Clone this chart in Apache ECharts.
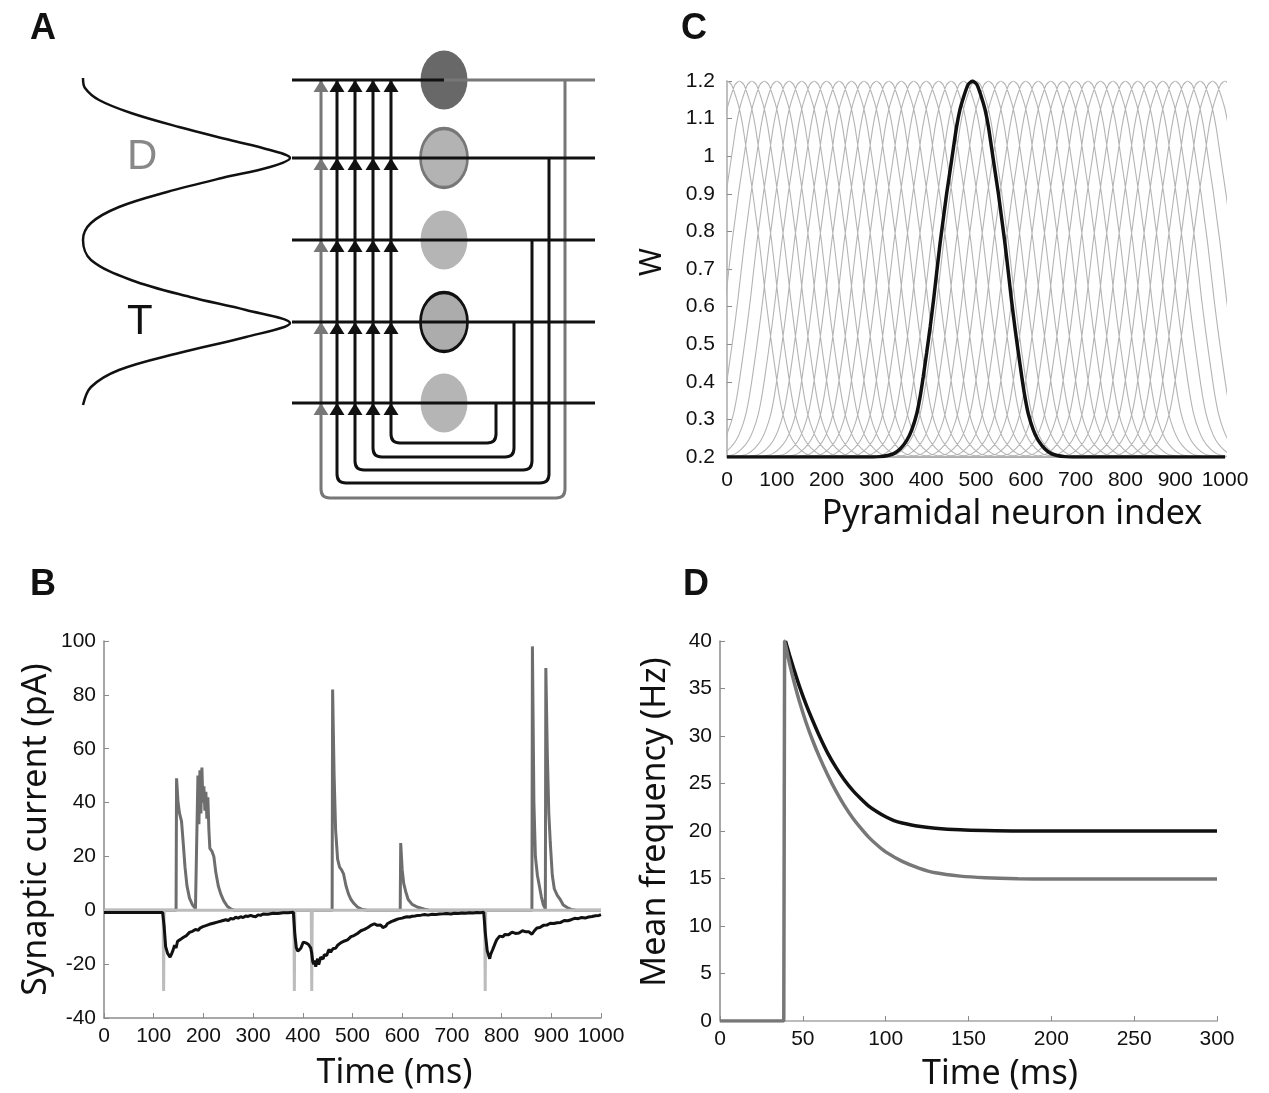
<!DOCTYPE html>
<html>
<head>
<meta charset="utf-8">
<script src="https://cdn.jsdelivr.net/npm/echarts@6/dist/echarts.min.js"></script>
<style>
html, body { margin: 0; background: #fff; }
#main { width: 1269px; height: 1093px; }
</style>
</head>
<body>
<div id="main"></div>
<script>
// ---- panel A: network schematic, in its own units on hidden axes ----
const rowLevels = [80, 158, 240, 322, 403];
const feedLines = [321, 337, 355, 373, 391];
const returnLines = [565, 549, 532, 514, 496];
const loopLevels = [498, 483, 470, 457, 443];
const rowEnds = [292, 595];
const neuronColumn = 444;
const inputProfile = [[83, 78], [85, 88], [99, 100], [131, 113], [179, 127], [230, 140], [270, 150], [290, 158],
  [270, 167], [222, 178], [167, 192], [119, 207], [91, 223], [83, 240], [91, 260], [131, 280], [190, 297],
  [246, 310], [290, 323], [246, 337], [179, 353], [119, 370], [91, 387], [83, 405]];

// ---- panel C: tuning curves ----
const tuningOffsets = [-200, -185, -170, -158, -145, -132, -122, -112, -105, -99, -92, -85, -78, -72, -65,
  -59, -52, -45, -38, -32, -25, -18, -9, 0, 9, 18, 25, 32, 38, 45, 52, 59, 65, 72, 78, 85, 92, 99, 105,
  112, 122, 132, 145, 158, 170, 185, 200];
const tuningValues = [0.2, 0.201, 0.204, 0.209, 0.222, 0.244, 0.272, 0.315, 0.362, 0.413, 0.478, 0.546,
  0.62, 0.69, 0.77, 0.83, 0.9, 0.962, 1.025, 1.078, 1.125, 1.157, 1.19, 1.2, 1.19, 1.157, 1.125, 1.078,
  1.025, 0.962, 0.9, 0.83, 0.77, 0.69, 0.62, 0.546, 0.478, 0.413, 0.362, 0.315, 0.272, 0.244, 0.222,
  0.209, 0.204, 0.201, 0.2];
const tuningCenters = [0, 25, 50, 75, 100, 125, 150, 175, 200, 225, 250, 275, 300, 325, 350, 375, 400,
  425, 450, 475, 500, 525, 550, 575, 600, 625, 650, 675, 700, 725, 750, 775, 800, 825, 850, 875, 900,
  925, 950, 975, 1000];
const cuedCenter = 493;

// ---- panel B: synaptic currents (ms, pA) ----
const excitatoryTrace = [[0, 0], [145, 0], [146, 49], [149, 40], [152, 36], [156, 33], [159, 26], [163, 16],
  [167, 9], [172, 4.5], [178, 2], [184, 0.6], [188, 0], [189, 50], [191, 32], [193, 52], [195, 36], [197, 53],
  [199, 40], [201, 46], [203, 37], [205, 44], [207, 34], [209, 42], [211, 30], [213, 23], [217, 22], [221, 20],
  [225, 14], [230, 9], [235, 6], [241, 3.5], [248, 1.5], [256, 0.4], [262, 0], [459, 0], [460, 82], [463, 50],
  [466, 30], [470, 19], [474, 16], [478, 15], [482, 13.5], [487, 9], [492, 6], [497, 4], [503, 2.5], [510, 1.2],
  [520, 0.3], [530, 0], [596, 0], [597, 25], [600, 15], [603, 10], [607, 7], [612, 4], [620, 2.2], [630, 1.2],
  [645, 0.4], [655, 0], [861, 0], [862, 98], [865, 40], [868, 20], [872, 13], [876, 9], [880, 5], [884, 2],
  [888, 0.5], [889, 90], [892, 58], [895, 36], [898, 25], [902, 13], [906, 8], [912, 5.5], [918, 4], [924, 2],
  [932, 1], [940, 0.3], [950, 0], [1000, 0]];
const inhibitoryTrace = [[0, 0], [119, 0], [120, -30], [121, 0], [382, 0], [383, -30], [384, 0], [417, 0],
  [418, -30], [419, 0], [766, 0], [767, -30], [768, 0], [1000, 0]];
const netTrace = [[0, -0.8], [118, -0.8], [121, -6], [124, -13.5], [128, -16], [133, -17.4], [136, -16.2],
  [139, -14.8], [142, -13], [145, -14], [148, -11.5], [151, -12.2], [154, -10.8], [157, -11.3], [160, -10],
  [163, -10.4], [166, -9.4], [169, -9.8], [172, -8.2], [175, -8.6], [178, -7.8], [181, -8.1], [184, -7.1],
  [187, -7.6], [190, -7.4], [193, -6.6], [196, -6.9], [199, -6.1], [202, -6.4], [205, -5.7], [208, -6.0],
  [212, -5.2], [216, -5.6], [220, -4.8], [224, -5.1], [228, -4.4], [232, -4.7], [236, -4.0], [240, -4.3],
  [245, -3.5], [250, -3.8], [255, -3.0], [260, -3.3], [265, -2.6], [270, -2.9], [275, -2.4], [280, -2.7],
  [285, -2.1], [290, -2.3], [295, -1.9], [300, -2.2], [305, -2.4], [310, -1.7], [315, -1.9], [320, -1.4],
  [330, -1.5], [340, -1.1], [350, -1.2], [360, -0.9], [370, -0.9], [381, -0.7], [384, -9], [387, -14],
  [390, -15.2], [393, -14.8], [396, -14.1], [398, -13.6], [401, -11.8], [403, -11.2], [406, -12.1],
  [408, -11.5], [411, -12.6], [413, -12.3], [416, -14], [418, -16], [420, -19], [422, -20], [424, -18.6],
  [426, -21], [428, -19], [430, -18], [432, -20.2], [434, -19.5], [436, -17.4], [438, -17], [441, -18.1],
  [443, -16.5], [446, -17.2], [448, -16.8], [451, -15.3], [453, -14.5], [456, -15.6], [458, -15],
  [461, -14.2], [463, -13.5], [466, -14.1], [470, -13], [473, -13.6], [477, -12], [480, -12.5], [484, -11.4],
  [487, -11.9], [490, -11], [494, -10.4], [497, -9.8], [500, -10.2], [503, -9.4], [507, -9.1], [510, -8.6],
  [514, -8.2], [517, -7.6], [521, -7.9], [524, -7.1], [528, -6.8], [531, -6.4], [534, -6.0], [537, -5.6],
  [541, -5.4], [544, -5.0], [547, -5.4], [550, -5.6], [554, -5.2], [557, -5.5], [561, -6.4], [564, -6.8],
  [567, -5.9], [570, -5.0], [574, -4.6], [578, -4.2], [582, -4.0], [585, -3.7], [589, -3.5], [592, -3.2],
  [596, -3.1], [600, -2.9], [605, -2.6], [610, -2.4], [615, -2.5], [620, -2.2], [626, -2.1], [631, -1.9],
  [638, -1.8], [645, -1.6], [652, -1.8], [660, -1.5], [668, -1.6], [675, -1.4], [683, -1.3], [690, -1.2],
  [698, -1.4], [705, -1.1], [713, -1.2], [720, -1.0], [728, -1.1], [735, -0.9], [743, -1.0], [750, -0.8],
  [757, -0.9], [764, -0.7], [767, -8], [771, -15], [776, -18], [778, -16.4], [780, -15.5], [782, -14.6],
  [784, -14], [787, -12.3], [790, -11], [793, -10.4], [796, -9.6], [800, -10.1], [803, -9.8], [806, -9.0],
  [810, -8.4], [814, -9.1], [817, -8.8], [821, -8.1], [824, -8.0], [828, -8.6], [831, -7.9], [835, -8.4],
  [838, -8.2], [842, -7.6], [845, -7.4], [849, -8.0], [852, -7.6], [855, -8.0], [858, -8.3], [861, -8.9],
  [863, -8.8], [866, -7.6], [868, -7.0], [871, -6.6], [874, -6.2], [877, -6.4], [880, -5.8], [884, -5.6],
  [887, -5.3], [891, -5.5], [894, -5.0], [898, -4.8], [901, -4.6], [905, -4.9], [908, -4.4], [912, -4.6],
  [915, -4.3], [919, -4.5], [922, -4.0], [926, -3.8], [929, -3.6], [933, -3.9], [936, -3.4], [940, -3.5],
  [943, -3.2], [947, -3.0], [950, -3.3], [954, -3.1], [957, -2.9], [961, -2.7], [964, -2.6], [968, -2.9],
  [971, -2.4], [975, -2.5], [978, -2.7], [982, -2.3], [985, -2.2], [989, -2.0], [992, -1.7], [996, -1.9],
  [1000, -1.6]];

// ---- panel D: mean frequency (ms, Hz) ----
const cuedRate = [[39.5, 40], [42, 38.5], [45, 36.8], [48, 35.2], [52, 33.3], [56, 31.6], [60, 30.0],
  [65, 28.2], [70, 26.7], [75, 25.4], [80, 24.3], [85, 23.4], [90, 22.6], [95, 22.0], [100, 21.5],
  [105, 21.1], [110, 20.85], [120, 20.5], [130, 20.3], [145, 20.13], [160, 20.05], [180, 20.0], [200, 20.0],
  [300, 20.0]];
const uncuedRate = [[0, 0], [38.5, 0], [39, 40], [42, 37.6], [45, 35.5], [48, 33.6], [52, 31.4], [56, 29.5],
  [60, 27.8], [65, 25.9], [70, 24.2], [75, 22.7], [80, 21.4], [85, 20.3], [90, 19.3], [95, 18.5], [100, 17.8],
  [110, 16.8], [120, 16.1], [130, 15.6], [145, 15.25], [160, 15.08], [180, 14.98], [200, 14.95], [300, 14.95]];

const tickFont = "'Liberation Sans Narrow', 'Liberation Sans', Arial, sans-serif";
const nameFont = "'Noto Sans', 'Open Sans', sans-serif";
const ink = '#111';
const midGrey = '#777';
const paleGrey = '#bcbcbc';

function plainNumber(v) {
  return String(+(+v).toFixed(2));
}

function valueAxis(grid, extra) {
  return Object.assign({
    type: 'value',
    gridIndex: grid,
    splitLine: {show: false},
    axisLine: {onZero: false, lineStyle: {color: '#8a8a8a', width: 1.5}},
    axisTick: {inside: true, length: 5, lineStyle: {color: '#8a8a8a'}},
    axisLabel: {fontFamily: tickFont, fontSize: 21, color: ink, margin: 8, formatter: plainNumber},
    nameLocation: 'middle',
    nameTextStyle: {fontFamily: nameFont, fontSize: 34, color: ink},
  }, extra);
}

function lineSeries(x, y, data, color, width, extra) {
  return Object.assign({
    type: 'line', xAxisIndex: x, yAxisIndex: y, data: data,
    symbol: 'none', lineStyle: {color: color, width: width}, silent: true,
  }, extra);
}

// schematic pieces
let rowSegments = rowLevels.map((y, i) => lineSeries(0, 0,
  [[rowEnds[0], y], [i === 0 ? neuronColumn : rowEnds[1], y]], ink, 3));
rowSegments.push(lineSeries(0, 0, [[neuronColumn, rowLevels[0]], [rowEnds[1], rowLevels[0]]], midGrey, 3));

let loops = feedLines.map((f, i) => [f, returnLines[i], rowLevels[i], loopLevels[i]]);

let arrowHeads = [];
rowLevels.forEach((y) => {
  feedLines.forEach((f, j) => {
    arrowHeads.push({value: [f, y], itemStyle: {color: j === 0 ? midGrey : ink}});
  });
});

const neuronFills = ['#686868', '#b3b3b3', '#b5b5b5', '#acacac', '#b5b5b5'];
const neuronEdges = [null, '#777', null, '#111', null];
let neurons = rowLevels.map((y, i) => ({
  value: [neuronColumn, y],
  itemStyle: {
    color: neuronFills[i],
    borderColor: neuronEdges[i] || neuronFills[i],
    borderWidth: neuronEdges[i] ? 3 : 0,
  },
}));

// tuning curves: the read profile placed at each preferred index
let tuningMesh = [];
tuningCenters.forEach((c) => {
  tuningOffsets.forEach((o, k) => tuningMesh.push([c + o, tuningValues[k]]));
  tuningMesh.push('-');
});
let cuedTuning = [[0, 0.2]].concat(tuningOffsets.map((o, k) => [cuedCenter + o, tuningValues[k]]), [[1000, 0.2]]);

let chart = echarts.init(document.getElementById('main'));
chart.setOption({
  animation: false,
  backgroundColor: '#fff',
  grid: [
    {left: 0, top: 0, width: 640, height: 540},
    {left: 727, top: 81, width: 498, height: 376},
    {left: 104, top: 641, width: 497, height: 377},
    {left: 720, top: 641, width: 497, height: 380},
  ],
  xAxis: [
    {type: 'value', gridIndex: 0, min: 0, max: 640, show: false},
    valueAxis(1, {
      min: 0, max: 1000, interval: 100,
      axisLine: {onZero: false, lineStyle: {color: '#aaa', width: 2}},
      axisTick: {show: false},
      axisLabel: {fontFamily: tickFont, fontSize: 21, color: ink, margin: 13, formatter: plainNumber},
      name: 'Pyramidal neuron index', nameGap: 40,
      nameTextStyle: {fontFamily: nameFont, fontSize: 34, color: ink, padding: [0, 0, 0, 72]},
    }),
    valueAxis(2, {
      min: 0, max: 1000, interval: 100,
      name: 'Time (ms)', nameGap: 38,
      nameTextStyle: {fontFamily: nameFont, fontSize: 34, color: ink, padding: [0, 0, 0, 84]},
    }),
    valueAxis(3, {
      min: 0, max: 300, interval: 50,
      axisLine: {onZero: false, lineStyle: {color: paleGrey, width: 2}},
      name: 'Time (ms)', nameGap: 36,
      nameTextStyle: {fontFamily: nameFont, fontSize: 34, color: ink, padding: [0, 0, 0, 63]},
    }),
  ],
  yAxis: [
    {type: 'value', gridIndex: 0, min: 0, max: 540, inverse: true, show: false},
    valueAxis(1, {
      min: 0.2, max: 1.2, interval: 0.1,
      axisLine: {onZero: false, lineStyle: {color: '#aaa', width: 1.5}},
      axisLabel: {fontFamily: tickFont, fontSize: 21, color: ink, margin: 12, formatter: plainNumber},
      name: 'W', nameGap: 60, nameRotate: 90,
      nameTextStyle: {fontFamily: nameFont, fontSize: 30, color: ink, padding: [0, 0, 0, 14]},
    }),
    valueAxis(2, {
      min: -40, max: 100, interval: 20,
      name: 'Synaptic current (pA)', nameGap: 51, nameRotate: 90,
    }),
    valueAxis(3, {
      min: 0, max: 40, interval: 5,
      name: 'Mean frequency (Hz)', nameGap: 48, nameRotate: 90,
      nameTextStyle: {fontFamily: nameFont, fontSize: 34, color: ink, padding: [0, 0, 0, 18]},
    }),
  ],
  series: [
    lineSeries(0, 0, inputProfile, ink, 2.5, {smooth: 0.35}),
    ...rowSegments,
    {
      type: 'custom', xAxisIndex: 0, yAxisIndex: 0, data: loops, clip: false, silent: true,
      renderItem: (params, api) => {
        let top = api.coord([api.value(0), rowLevels[0]]);
        let corner = api.coord([api.value(0), api.value(3)]);
        let far = api.coord([api.value(1), api.value(3)]);
        let join = api.coord([api.value(1), api.value(2)]);
        let r = 9;
        let d = 'M' + top[0] + ' ' + top[1] +
          ' L' + corner[0] + ' ' + (corner[1] - r) +
          ' Q' + corner[0] + ' ' + corner[1] + ' ' + (corner[0] + r) + ' ' + corner[1] +
          ' L' + (far[0] - r) + ' ' + far[1] +
          ' Q' + far[0] + ' ' + far[1] + ' ' + far[0] + ' ' + (far[1] - r) +
          ' L' + join[0] + ' ' + join[1];
        return {
          type: 'path',
          shape: {pathData: d},
          style: {fill: 'none', stroke: params.dataIndex === 0 ? midGrey : ink, lineWidth: 3},
        };
      },
    },
    {
      type: 'scatter', xAxisIndex: 0, yAxisIndex: 0, data: arrowHeads, silent: true,
      symbol: 'triangle', symbolSize: [15, 12], symbolOffset: [0, 6],
      itemStyle: {opacity: 1},
    },
    {
      type: 'scatter', xAxisIndex: 0, yAxisIndex: 0, data: neurons, silent: true,
      symbol: 'circle', symbolSize: [47, 59],
      itemStyle: {opacity: 1},
    },
    lineSeries(1, 1, tuningMesh, '#b4b4b4', 1.1, {smooth: 0.2, connectNulls: false}),
    lineSeries(1, 1, cuedTuning, ink, 3.5, {smooth: 0.2}),
    lineSeries(2, 2, excitatoryTrace, '#6e6e6e', 3),
    lineSeries(2, 2, inhibitoryTrace, paleGrey, 3),
    lineSeries(2, 2, netTrace, ink, 3),
    lineSeries(3, 3, cuedRate, ink, 3.5, {smooth: 0.3}),
    lineSeries(3, 3, uncuedRate, midGrey, 3.5, {smooth: 0.3}),
  ],
  graphic: [
    {type: 'text', x: 30, y: 11, style: {text: 'A', fontFamily: 'Liberation Sans', fontWeight: 'bold', fontSize: 36, fill: ink}},
    {type: 'text', x: 681, y: 11, style: {text: 'C', fontFamily: 'Liberation Sans', fontWeight: 'bold', fontSize: 36, fill: ink}},
    {type: 'text', x: 30, y: 567, style: {text: 'B', fontFamily: 'Liberation Sans', fontWeight: 'bold', fontSize: 36, fill: ink}},
    {type: 'text', x: 683, y: 567, style: {text: 'D', fontFamily: 'Liberation Sans', fontWeight: 'bold', fontSize: 36, fill: ink}},
    {type: 'text', x: 127, y: 136, style: {text: 'D', fontFamily: 'Liberation Sans', fontSize: 42, fill: '#888'}},
    {type: 'text', x: 127, y: 301, style: {text: 'T', fontFamily: 'Liberation Sans', fontSize: 42, fill: ink}},
  ],
});
</script>
</body>
</html>
